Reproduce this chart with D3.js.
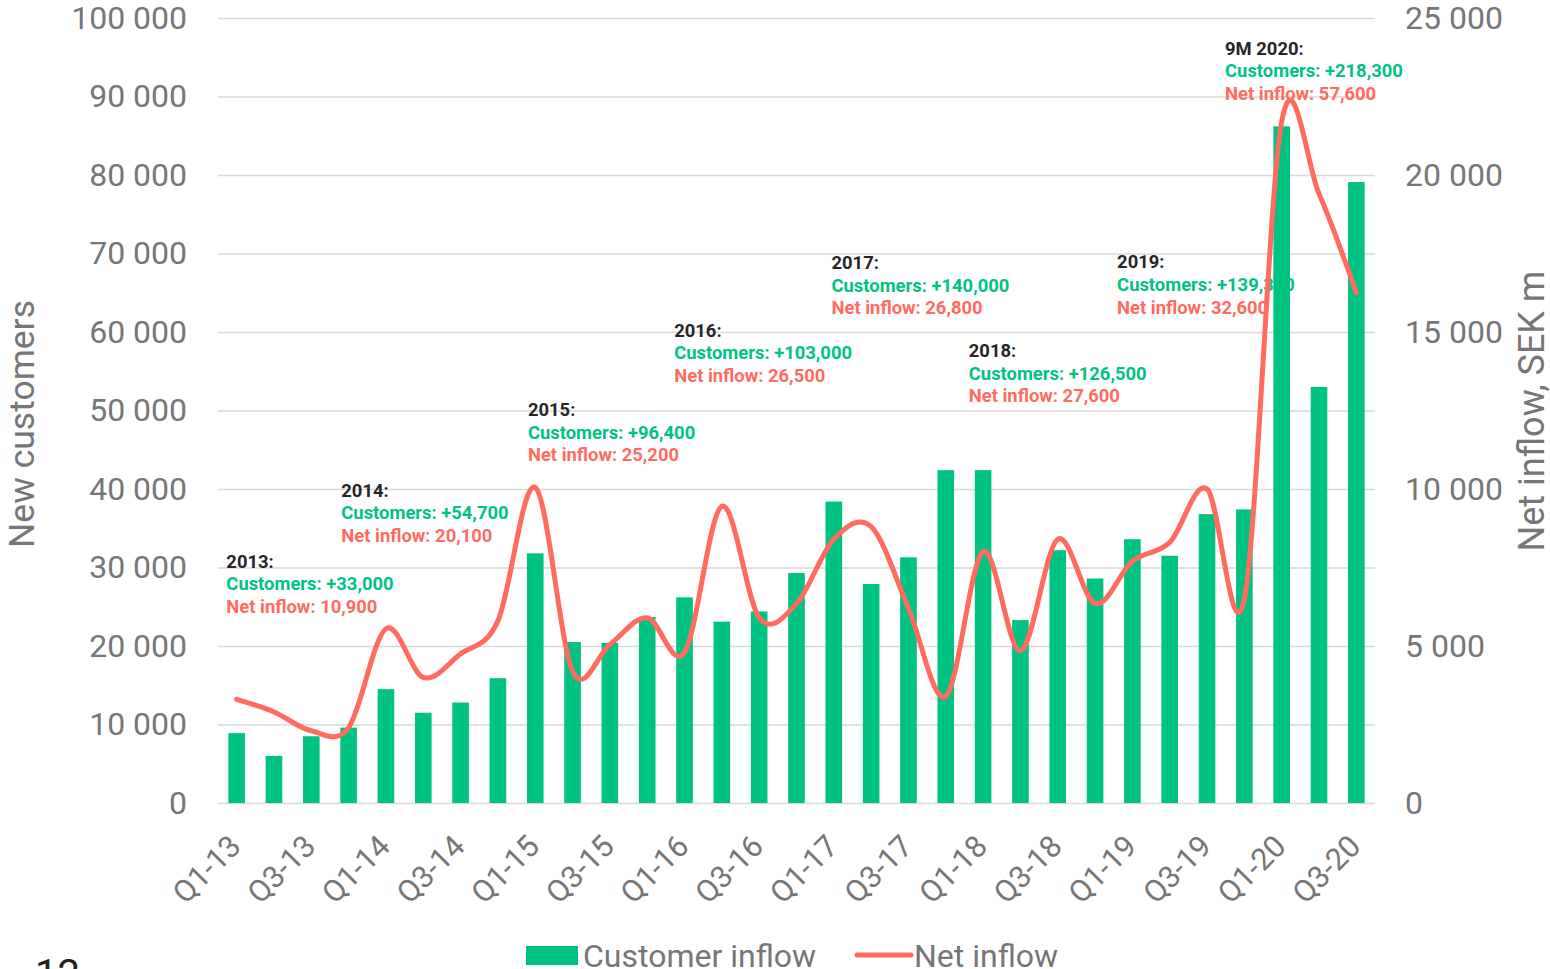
<!DOCTYPE html>
<html>
<head>
<meta charset="utf-8">
<script src="https://cdn.jsdelivr.net/npm/d3@7"></script>
<style>
	body { margin: 0; background: #fff; }
	svg { display: block; font-family: Roboto, "Noto Sans", sans-serif; }
</style>
</head>
<body>
<svg id="chart"></svg>
<script>
// quarters on the x axis
let quarters = [
	'Q1-13', 'Q2-13', 'Q3-13', 'Q4-13',
	'Q1-14', 'Q2-14', 'Q3-14', 'Q4-14',
	'Q1-15', 'Q2-15', 'Q3-15', 'Q4-15',
	'Q1-16', 'Q2-16', 'Q3-16', 'Q4-16',
	'Q1-17', 'Q2-17', 'Q3-17', 'Q4-17',
	'Q1-18', 'Q2-18', 'Q3-18', 'Q4-18',
	'Q1-19', 'Q2-19', 'Q3-19', 'Q4-19',
	'Q1-20', 'Q2-20', 'Q3-20'
];

// new customers per quarter (left axis)
let customers = [
	8900, 6000, 8500, 9600,
	14500, 11500, 12800, 15900,
	31800, 20500, 20400, 23700,
	26200, 23100, 24400, 29300,
	38400, 27900, 31300, 42400,
	42400, 23300, 32200, 28600,
	33600, 31500, 36800, 37400,
	86200, 53000, 79100
];

// net inflow per quarter, SEK m (right axis)
let netInflow = [
	3300, 2900, 2300, 2400,
	5550, 4000, 4750, 5800,
	10050, 4200, 5050, 5900,
	4800, 9450, 5900, 6350,
	8400, 8800, 6200, 3400,
	8000, 4850, 8400, 6350,
	7700, 8300, 10000, 6500,
	21700, 19400, 16250
];

let leftTicks = [0, 10000, 20000, 30000, 40000, 50000, 60000, 70000, 80000, 90000, 100000];
let rightTicks = [0, 5000, 10000, 15000, 20000, 25000];
let xTicks = quarters.filter((q) => q.startsWith('Q1') || q.startsWith('Q3'));

// yearly summaries
let annoYears = ['2013:', '2014:', '2015:', '2016:', '2017:', '2018:', '2019:', '9M 2020:'];
let annoCustomers = ['+33,000', '+54,700', '+96,400', '+103,000', '+140,000', '+126,500', '+139,300', '+218,300'];
let annoInflow = ['10,900', '20,100', '25,200', '26,500', '26,800', '27,600', '32,600', '57,600'];
// where each summary sits: quarter it hangs off and left-axis level of first line
let annoQuarter = ['Q1-13', 'Q4-13', 'Q1-15', 'Q1-16', 'Q1-17', 'Q1-18', 'Q1-19', 'Q4-19'];
let annoLevel = [30000, 39000, 49300, 59400, 68000, 56800, 68100, 95300];
let annoNudge = [-2, 1, 1, -2, 6, -6, -7, -11];

let green = '#00c281';
let red = '#ff6b5f';
let grey = '#767676';

let width = 1550, height = 969;
let leftMargin = 218, rightEdge = 1375, topEdge = 18, baseLine = 803;

let chart = d3.select('#chart')
	.attr('width', width)
	.attr('height', height);

let xScale = d3.scaleBand()
	.domain(quarters)
	.range([leftMargin, rightEdge])
	.paddingInner(0.555)
	.paddingOuter(0.2775);

let yLeft = d3.scaleLinear().domain([0, 100000]).range([baseLine, topEdge]);
let yRight = d3.scaleLinear().domain([0, 25000]).range([baseLine, topEdge]);

let spaced = (d) => d3.format(',')(d).replace(/,/g, ' ');

// GRID
let grid = chart.append('g')
	.attr('transform', `translate(${leftMargin},0)`)
	.call(d3.axisLeft(yLeft).tickValues(leftTicks).tickSize(-(rightEdge - leftMargin)).tickFormat(''));
grid.select('.domain').remove();
grid.selectAll('line').attr('stroke', '#d9d9d9').attr('stroke-width', 1.6);

// AXES
let leftAxis = chart.append('g')
	.attr('transform', `translate(${leftMargin},0)`)
	.call(d3.axisLeft(yLeft).tickValues(leftTicks).tickSize(0).tickPadding(31).tickFormat(spaced));

let rightAxis = chart.append('g')
	.attr('transform', `translate(${rightEdge},0)`)
	.call(d3.axisRight(yRight).tickValues(rightTicks).tickSize(0).tickPadding(30).tickFormat(spaced));

[leftAxis, rightAxis].forEach((g) => {
	g.select('.domain').remove();
	g.selectAll('text')
		.attr('fill', grey)
		.style('font-size', '32px')
		.style('font-family', 'Roboto');
});

let bottomAxis = chart.append('g')
	.attr('transform', `translate(0,${baseLine})`)
	.call(d3.axisBottom(xScale).tickValues(xTicks).tickSize(0));
bottomAxis.select('.domain').remove();
bottomAxis.selectAll('text')
	.attr('fill', grey)
	.attr('y', 0)
	.attr('dy', 0)
	.attr('text-anchor', 'end')
	.attr('transform', 'translate(6,45) rotate(-45)')
	.style('font-size', '30.5px')
	.style('font-family', 'Roboto');

// LABELS
chart.append('text')
	.attr('transform', 'rotate(-90)')
	.attr('x', -424)
	.attr('y', 34)
	.attr('text-anchor', 'middle')
	.attr('fill', grey)
	.style('font-size', '35.5px')
	.text('New customers');

chart.append('text')
	.attr('transform', 'rotate(-90)')
	.attr('x', -411)
	.attr('y', 1544)
	.attr('text-anchor', 'middle')
	.attr('fill', grey)
	.style('font-size', '36px')
	.text('Net inflow, SEK m');

// ANNOTATIONS (behind bars and line)
let annos = chart.append('g').style('font-size', '18.4px').style('font-weight', 700);
annoYears.forEach((year, i) => {
	let x = xScale(annoQuarter[i]) + annoNudge[i];
	let y = yLeft(annoLevel[i]);
	let t = annos.append('text').attr('x', x).attr('y', y);
	t.append('tspan').attr('x', x).attr('fill', '#262626').text(year);
	t.append('tspan').attr('x', x).attr('dy', 22.6).attr('fill', green).text('Customers: ' + annoCustomers[i]);
	t.append('tspan').attr('x', x).attr('dy', 22.6).attr('fill', red).text('Net inflow: ' + annoInflow[i]);
});

// BARS
chart.append('g')
	.selectAll('rect')
	.data(quarters)
	.enter()
	.append('rect')
	.attr('x', (d) => xScale(d))
	.attr('y', (d, i) => yLeft(customers[i]))
	.attr('width', xScale.bandwidth())
	.attr('height', (d, i) => baseLine - yLeft(customers[i]))
	.attr('fill', green);

// LINE
let line = d3.line()
	.x((d) => xScale(d) + xScale.bandwidth() / 2)
	.y((d, i) => yRight(netInflow[i]))
	.curve(d3.curveCardinal.tension(0));

chart.append('path')
	.datum(quarters)
	.attr('d', line)
	.attr('fill', 'none')
	.attr('stroke', red)
	.attr('stroke-width', 5)
	.attr('stroke-linecap', 'round')
	.attr('stroke-linejoin', 'round');

// LEGEND
let legend = chart.append('g').style('font-size', '32px');
legend.append('rect')
	.attr('x', 526).attr('y', 946).attr('width', 52).attr('height', 19)
	.attr('fill', green);
legend.append('text')
	.attr('x', 583).attr('y', 967)
	.attr('fill', grey)
	.text('Customer inflow');
legend.append('line')
	.attr('x1', 857).attr('x2', 911).attr('y1', 955).attr('y2', 955)
	.attr('stroke', red).attr('stroke-width', 5).attr('stroke-linecap', 'round');
legend.append('text')
	.attr('x', 914).attr('y', 967)
	.attr('fill', grey)
	.text('Net inflow');

// page number, cut by the bottom edge
chart.append('text')
	.attr('x', 35).attr('y', 988)
	.attr('fill', '#222')
	.style('font-size', '40px')
	.text('12');
</script>
</body>
</html>
